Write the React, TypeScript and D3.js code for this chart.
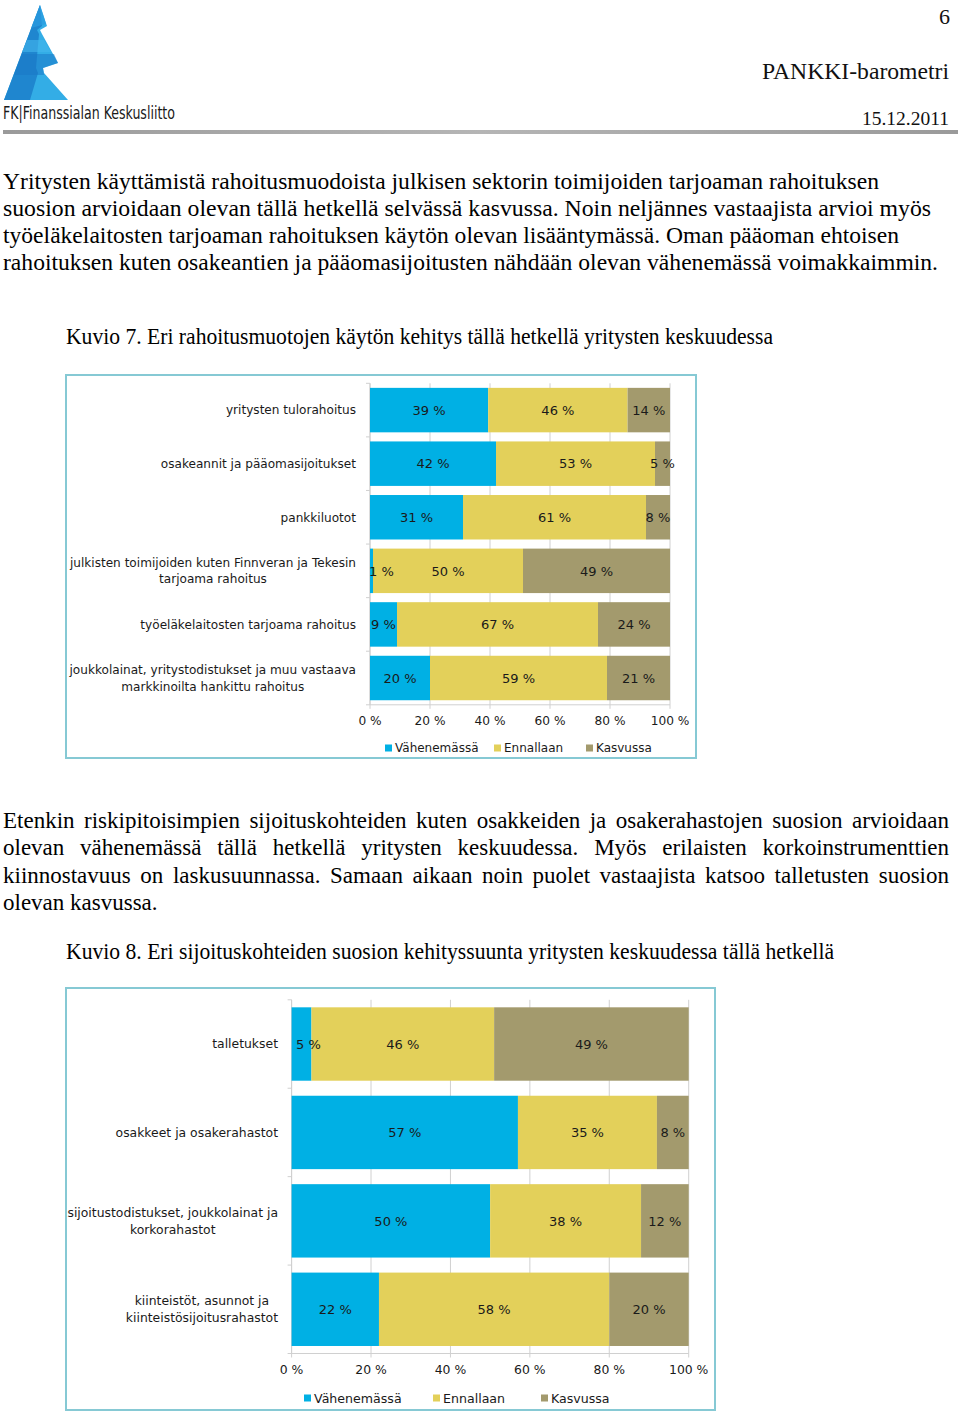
import React from "react";
import * as d3 from "d3";

// ---------- DATA ----------
const seriesNames = ["Vähenemässä", "Ennallaan", "Kasvussa"];
const tickLabels = ["0 %", "20 %", "40 %", "60 %", "80 %", "100 %"];
const tickValues = [0, 0.2, 0.4, 0.6, 0.8, 1];

const categories1 = [
  "yritysten tulorahoitus",
  "osakeannit ja pääomasijoitukset",
  "pankkiluotot",
  "julkisten toimijoiden kuten Finnveran ja Tekesin\ntarjoama rahoitus",
  "työeläkelaitosten tarjoama rahoitus",
  "joukkolainat, yritystodistukset ja muu vastaava\nmarkkinoilta hankittu rahoitus",
];
const decreasing1 = [39, 42, 31, 1, 9, 20];
const unchanged1 = [46, 53, 61, 50, 67, 59];
const increasing1 = [14, 5, 8, 49, 24, 21];

const categories2 = [
  "talletukset",
  "osakkeet ja osakerahastot",
  "sijoitustodistukset, joukkolainat ja\nkorkorahastot",
  "kiinteistöt, asunnot ja\nkiinteistösijoitusrahastot",
];
const decreasing2 = [5, 57, 50, 22];
const unchanged2 = [46, 35, 38, 58];
const increasing2 = [49, 8, 12, 20];

const para1 = [
  "Yritysten käyttämistä rahoitusmuodoista julkisen sektorin toimijoiden tarjoaman rahoituksen",
  "suosion arvioidaan olevan tällä hetkellä selvässä kasvussa.  Noin neljännes vastaajista arvioi myös",
  "työeläkelaitosten tarjoaman rahoituksen käytön olevan lisääntymässä. Oman pääoman ehtoisen",
  "rahoituksen kuten osakeantien ja pääomasijoitusten nähdään olevan vähenemässä voimakkaimmin.",
];
const para2 = [
  "Etenkin riskipitoisimpien sijoituskohteiden kuten osakkeiden ja osakerahastojen suosion arvioidaan",
  "olevan vähenemässä tällä hetkellä yritysten keskuudessa. Myös erilaisten korkoinstrumenttien",
  "kiinnostavuus on laskusuunnassa. Samaan aikaan noin puolet vastaajista katsoo talletusten suosion",
  "olevan kasvussa.",
];
const caption1 = "Kuvio 7. Eri rahoitusmuotojen käytön kehitys tällä hetkellä yritysten keskuudessa";
const caption2 = "Kuvio 8. Eri sijoituskohteiden suosion kehityssuunta yritysten keskuudessa tällä hetkellä";

// ---------- STYLE / LAYOUT ----------
const colors = ["#00b0e4", "#e3d05a", "#a39a6d"];
const SERIF = "'Liberation Serif', 'Times New Roman', serif";
const SANS = "'DejaVu Sans', Verdana, sans-serif";
const para1Widths = [876, 928, 896, 935];
const para2Justify = [true, true, true, false];
const BODY_SIZE = 23;

let _ctx: CanvasRenderingContext2D | null = null;
function measure(text: string, font: string) {
  if (!_ctx) _ctx = document.createElement("canvas").getContext("2d");
  if (!_ctx) return text.length * 7;
  _ctx.font = font;
  return _ctx.measureText(text).width;
}

function JustifiedLine({ text, x, y, width, justify }: { text: string; x: number; y: number; width: number; justify: boolean }) {
  const font = `${BODY_SIZE}px 'Liberation Serif'`;
  if (!justify) {
    return (
      <text x={x} y={y} fontFamily={SERIF} fontSize={BODY_SIZE} fill="#000">
        {text}
      </text>
    );
  }
  const words = text.split(/\s+/);
  const ws = words.map((w) => measure(w, font));
  const total = ws.reduce((a, b) => a + b, 0);
  const gap = (width - total) / (words.length - 1);
  let cx = x;
  return (
    <g>
      {words.map((w, i) => {
        const px = cx;
        cx += ws[i] + gap;
        return (
          <text key={i} x={px} y={y} fontFamily={SERIF} fontSize={BODY_SIZE} fill="#000">
            {w}
          </text>
        );
      })}
    </g>
  );
}

type ChartCfg = {
  categories: string[];
  dec: number[];
  unc: number[];
  inc: number[];
  frame: { x: number; y: number; w: number; h: number };
  x0: number;
  x1: number;
  y0: number;
  y1: number;
  catSize: number;
  valSize: number;
  tickSize: number;
  legSize: number;
  labelRight: number;
  lineH: number;
  tickY: number;
  legendY: number;
  legendXs: number[];
  minPad: number;
};

function Chart({ c }: { c: ChartCfg }) {
  const keys = ["dec", "unc", "inc"];
  const rows = c.categories.map((cat, i) => ({ cat, dec: c.dec[i], unc: c.unc[i], inc: c.inc[i] }));
  const raw = [c.dec, c.unc, c.inc];
  const stacked = d3.stack<any>().keys(keys).offset(d3.stackOffsetExpand)(rows);
  const x = d3.scaleLinear().domain([0, 1]).range([c.x0, c.x1]);
  const y = d3.scaleBand<string>().domain(c.categories).range([c.y0, c.y1]).paddingInner(0.17).paddingOuter(0.085);
  const valFont = `${c.valSize}px 'DejaVu Sans'`;
  const catFont = `${c.catSize}px 'DejaVu Sans'`;
  const bottom = c.y1;
  const step = y.step();

  return (
    <g>
      <rect x={c.frame.x} y={c.frame.y} width={c.frame.w} height={c.frame.h} fill="#fff" stroke="#86c9d4" strokeWidth={2} />
      {tickValues.map((t, i) => (
        <line key={"g" + i} x1={x(t)} x2={x(t)} y1={c.y0} y2={bottom + 4} stroke="#d0d0d0" strokeWidth={1} />
      ))}
      <line x1={c.x0} x2={c.x1} y1={bottom} y2={bottom} stroke="#d0d0d0" />
      <line x1={c.x0} x2={c.x0} y1={c.y0} y2={bottom} stroke="#d0d0d0" />
      {d3.range(c.categories.length + 1).map((k) => (
        <line key={"t" + k} x1={c.x0 - 4} x2={c.x0} y1={c.y0 + k * step} y2={c.y0 + k * step} stroke="#d0d0d0" />
      ))}
      {stacked.map((s, si) => (
        <g key={"s" + si}>
          {s.map((d, i) => (
            <rect
              key={i}
              x={x(d[0])}
              y={y(c.categories[i])}
              width={x(d[1]) - x(d[0])}
              height={y.bandwidth()}
              fill={colors[si]}
            />
          ))}
        </g>
      ))}
      {stacked.map((s, si) => (
        <g key={"v" + si}>
          {s.map((d, i) => {
            const label = `${raw[si][i]} %`;
            const w = measure(label, valFont);
            let cx = x((d[0] + d[1]) / 2);
            if (cx - w / 2 < c.x0 + c.minPad) cx = c.x0 + c.minPad + w / 2;
            return (
              <text
                key={i}
                x={cx}
                y={(y(c.categories[i]) as number) + y.bandwidth() / 2}
                dy="0.36em"
                textAnchor="middle"
                fontFamily={SANS}
                fontSize={c.valSize}
                fill="#1a1a1a"
              >
                {label}
              </text>
            );
          })}
        </g>
      ))}
      {c.categories.map((cat, i) => {
        const lines = cat.split("\n");
        const maxW = Math.max(...lines.map((l) => measure(l, catFont)));
        const cx = c.labelRight - maxW / 2;
        const cy = (y(cat) as number) + y.bandwidth() / 2;
        return (
          <text key={"c" + i} textAnchor="middle" fontFamily={SANS} fontSize={c.catSize} fill="#1a1a1a">
            {lines.map((l, li) => (
              <tspan key={li} x={cx} y={cy + (li - (lines.length - 1) / 2) * c.lineH} dy="0.36em">
                {l}
              </tspan>
            ))}
          </text>
        );
      })}
      {tickValues.map((t, i) => (
        <text key={"tl" + i} x={x(t)} y={c.tickY} dy="0.36em" textAnchor="middle" fontFamily={SANS} fontSize={c.tickSize} fill="#1a1a1a">
          {tickLabels[i]}
        </text>
      ))}
      {seriesNames.map((n, i) => (
        <g key={"l" + i}>
          <rect x={c.legendXs[i]} y={c.legendY - 3.5} width={7} height={7} fill={colors[i]} />
          <text x={c.legendXs[i] + 10} y={c.legendY} dy="0.36em" fontFamily={SANS} fontSize={c.legSize} fill="#1a1a1a">
            {n}
          </text>
        </g>
      ))}
    </g>
  );
}

const chart1: ChartCfg = {
  categories: categories1,
  dec: decreasing1,
  unc: unchanged1,
  inc: increasing1,
  frame: { x: 66, y: 375, w: 630, h: 383 },
  x0: 370,
  x1: 670,
  y0: 383.3,
  y1: 704.8,
  catSize: 12.1,
  valSize: 13,
  tickSize: 12.2,
  legSize: 12,
  labelRight: 356,
  lineH: 16.5,
  tickY: 721,
  legendY: 748,
  legendXs: [385, 494, 586],
  minPad: -1,
};

const chart2: ChartCfg = {
  categories: categories2,
  dec: decreasing2,
  unc: unchanged2,
  inc: increasing2,
  frame: { x: 66, y: 988, w: 649, h: 422 },
  x0: 291.6,
  x1: 688.7,
  y0: 999.8,
  y1: 1353.5,
  catSize: 12.4,
  valSize: 13,
  tickSize: 12.4,
  legSize: 12.6,
  labelRight: 278,
  lineH: 17,
  tickY: 1370,
  legendY: 1398,
  legendXs: [304, 433, 541],
  minPad: 4.4,
};

function Logo() {
  return (
    <g>
      <polygon points="40,5 47,26 40,30 42,34 58,63 43,68 44,73 68,100 4,100" fill="#33ade6" />
      <polygon points="40,5 4,100 30,100 38,73 36,68 39,34 37,30 42,26" fill="#1f86cf" />
      <polygon points="40,5 31,28 46,24" fill="#2a9be0" opacity={0.7} />
      <polygon points="22,54 14,75 44,75 43,68 58,63 54,54" fill="#1a78c6" opacity={0.55} />
      <polygon points="27,40 22,52 51,52 44,40" fill="#45b8ec" opacity={0.6} />
      <text
        x={3}
        y={119}
        fontFamily="'Liberation Sans Narrow', 'DejaVu Sans Condensed', 'Liberation Sans', sans-serif"
        fontSize={18}
        textLength={172}
        lengthAdjust="spacingAndGlyphs"
        fill="#1a1a1a"
      >
        FK|Finanssialan Keskusliitto
      </text>
    </g>
  );
}

export default function App() {
  return (
    <svg
      width={960}
      height={1414}
      viewBox="0 0 960 1414"
      style={{ position: "absolute", left: 0, top: 0, display: "block", background: "#fff" }}
    >
      <rect x={0} y={0} width={960} height={1414} fill="#fff" />
      <Logo />
      <text x={950} y={24} textAnchor="end" fontFamily={SERIF} fontSize={22} fill="#111">6</text>
      <text x={949} y={79} textAnchor="end" fontFamily={SERIF} fontSize={23} textLength={187} lengthAdjust="spacingAndGlyphs" fill="#111">
        PANKKI-barometri
      </text>
      <text x={949} y={125} textAnchor="end" fontFamily={SERIF} fontSize={19} textLength={87} lengthAdjust="spacingAndGlyphs" fill="#111">
        15.12.2011
      </text>
      <defs>
        <linearGradient id="rule" x1="0" x2="1" y1="0" y2="0">
          <stop offset="0" stopColor="#9a9a9a" />
          <stop offset="0.5" stopColor="#b5b5b5" />
          <stop offset="1" stopColor="#9a9a9a" />
        </linearGradient>
      </defs>
      <rect x={3} y={130} width={955} height={4} fill="url(#rule)" />

      {para1.map((l, i) => (
        <text key={"p1" + i} x={3} y={189 + i * 27} fontFamily={SERIF} fontSize={BODY_SIZE} textLength={para1Widths[i]} lengthAdjust="spacingAndGlyphs" fill="#000">
          {l}
        </text>
      ))}
      <text x={66} y={344} fontFamily={SERIF} fontSize={BODY_SIZE} textLength={707} lengthAdjust="spacingAndGlyphs" fill="#000">
        {caption1}
      </text>

      <Chart c={chart1} />

      {para2.map((l, i) => (
        <JustifiedLine key={"p2" + i} text={l} x={3} y={828 + i * 27.3} width={946} justify={para2Justify[i]} />
      ))}
      <text x={66} y={959} fontFamily={SERIF} fontSize={BODY_SIZE} textLength={768} lengthAdjust="spacingAndGlyphs" fill="#000">
        {caption2}
      </text>

      <Chart c={chart2} />
    </svg>
  );
}
